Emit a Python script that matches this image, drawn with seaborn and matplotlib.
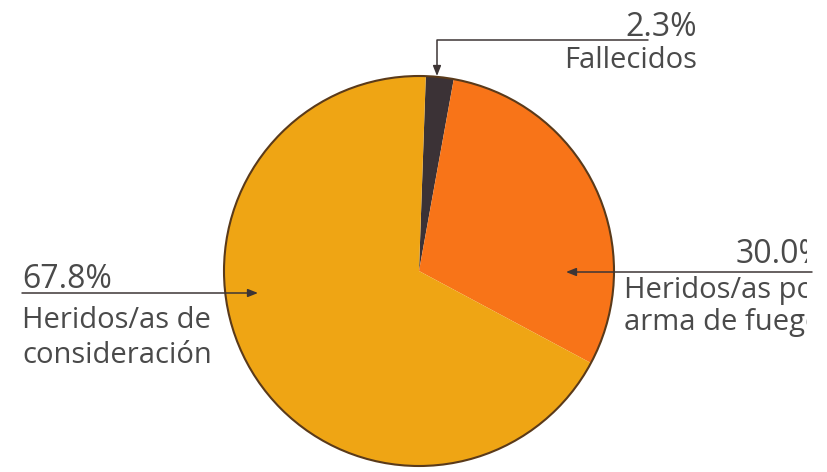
import matplotlib
matplotlib.use("Agg")
import matplotlib.pyplot as plt
import seaborn as sns

# data
categories = ["Fallecidos", "Heridos/as por\narma de fuego", "Heridos/as de\nconsideración"]
shares = [2.3, 30.0, 67.8]
pct_labels = ["2.3%", "30.0%", "67.8%"]
slice_colors = ["#3b3236", "#f87418", "#efa514"]

sns.set_theme(style="white")
plt.rcParams["font.family"] = ["Open Sans", "DejaVu Sans"]

W, H = 828, 472
VISIBLE_W = 807  # the scan is cut here
TEXT_COLOR = "#4a4a4a"
LINE_COLOR = "#3d3535"
FS = 21       # category text
FS_PCT = 23   # percentages (wider digits in the original)


def yy(y):
    # pixel row (top-down) -> data y (bottom-up)
    return H - y


fig = plt.figure(figsize=(W / 100, H / 100), dpi=100)
ax = fig.add_axes([0, 0, VISIBLE_W / W, 1])

cx, cy, r = 419, 271, 195
ax.pie(shares, colors=slice_colors, startangle=88, counterclock=False,
       center=(cx, yy(cy)), radius=r, frame=True,
       wedgeprops=dict(linewidth=0))
ax.add_patch(plt.Circle((cx, yy(cy)), r, fill=False, ec="#5a3a1a", lw=1.5))

ax.set_xlim(0, VISIBLE_W)
ax.set_ylim(0, H)
ax.set_aspect("equal")
ax.axis("off")

arrow = dict(arrowstyle="-|>,head_length=0.5,head_width=0.2", color=LINE_COLOR,
             lw=1.1, shrinkA=0, shrinkB=0)

# Fallecidos (top, elbow connector)
ax.annotate("", xy=(437, yy(76)), xytext=(648, yy(40)),
            arrowprops=dict(connectionstyle="angle,angleA=180,angleB=90,rad=0", **arrow))
ax.text(697, yy(36), pct_labels[0], ha="right", va="baseline", fontsize=FS_PCT, color=TEXT_COLOR)
ax.text(697, yy(68), categories[0], ha="right", va="baseline", fontsize=FS, color=TEXT_COLOR)

# Heridos por arma de fuego (right, cut off by the scan edge)
ax.annotate("", xy=(566, yy(272)), xytext=(VISIBLE_W + 5, yy(272)), arrowprops=arrow)
ax.text(736, yy(263), pct_labels[1], ha="left", va="baseline", fontsize=FS_PCT,
        color=TEXT_COLOR, clip_on=True)
for i, line in enumerate(categories[1].split("\n")):
    ax.text(624, yy(298 + 32 * i), line, ha="left", va="baseline", fontsize=FS,
            color=TEXT_COLOR, clip_on=True)

# Heridos de consideración (left)
ax.annotate("", xy=(258, yy(293)), xytext=(22, yy(293)), arrowprops=arrow)
ax.text(22, yy(288), pct_labels[2], ha="left", va="baseline", fontsize=FS_PCT, color=TEXT_COLOR)
for i, line in enumerate(categories[2].split("\n")):
    ax.text(22, yy(328 + 35 * i), line, ha="left", va="baseline", fontsize=FS,
            color=TEXT_COLOR)

fig.savefig("out.png", dpi=100, facecolor="white")
